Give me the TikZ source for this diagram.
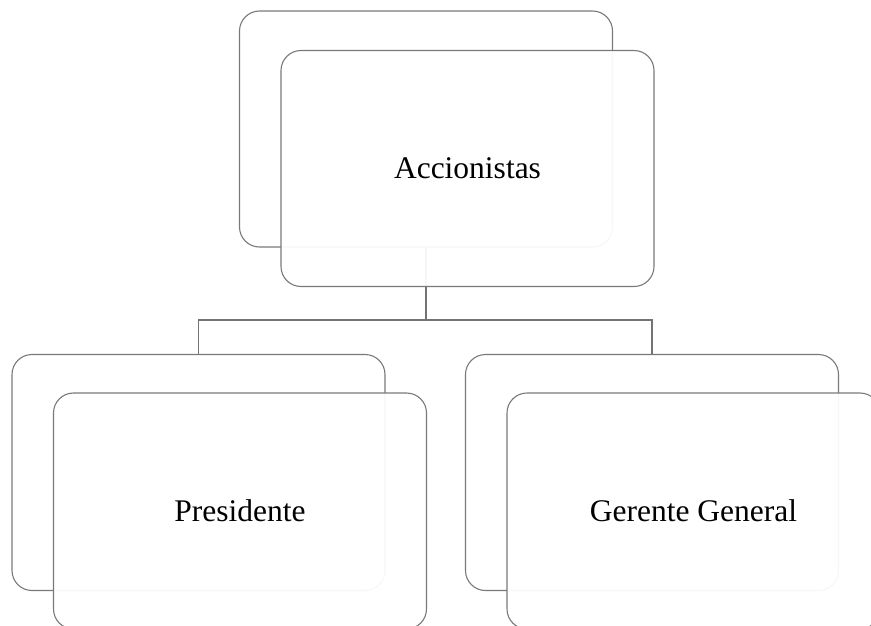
\documentclass[tikz,border=0pt]{standalone}
\usepackage{fontspec}
\setmainfont{Liberation Serif}
\usepackage{tikz}

\begin{document}
\begin{tikzpicture}[x=1pt,y=-1pt,
  backbox/.style={draw=gray!95!black,line width=1.1pt,rounded corners=20pt,
    minimum width=373pt,minimum height=236pt,inner sep=0pt},
  frontbox/.style={backbox,fill=white,fill opacity=0.94,text opacity=1,
    font=\fontsize{31.5}{38}\selectfont},
  link/.style={draw=gray!90!black,line width=1.8pt}]
\useasboundingbox (0,0) rectangle (871,626);
% Back cards
\node[backbox] (accback) at (426,129) {};
\node[backbox] (preback) at (198.5,472.5) {};
\node[backbox] (gerback) at (652,472.5) {};
% Connectors
\coordinate (bus) at (426,320);
\draw[link] (accback.south) -- (bus) -| (preback.north);
\draw[link] (bus) -| (gerback.north);
% Front cards
\node[frontbox] (acc) at (467.5,168.5) {Accionistas};
\node[frontbox] (pre) at (240,511) {Presidente};
\node[frontbox] (ger) at (693.5,511) {Gerente General};
\end{tikzpicture}
\end{document}
